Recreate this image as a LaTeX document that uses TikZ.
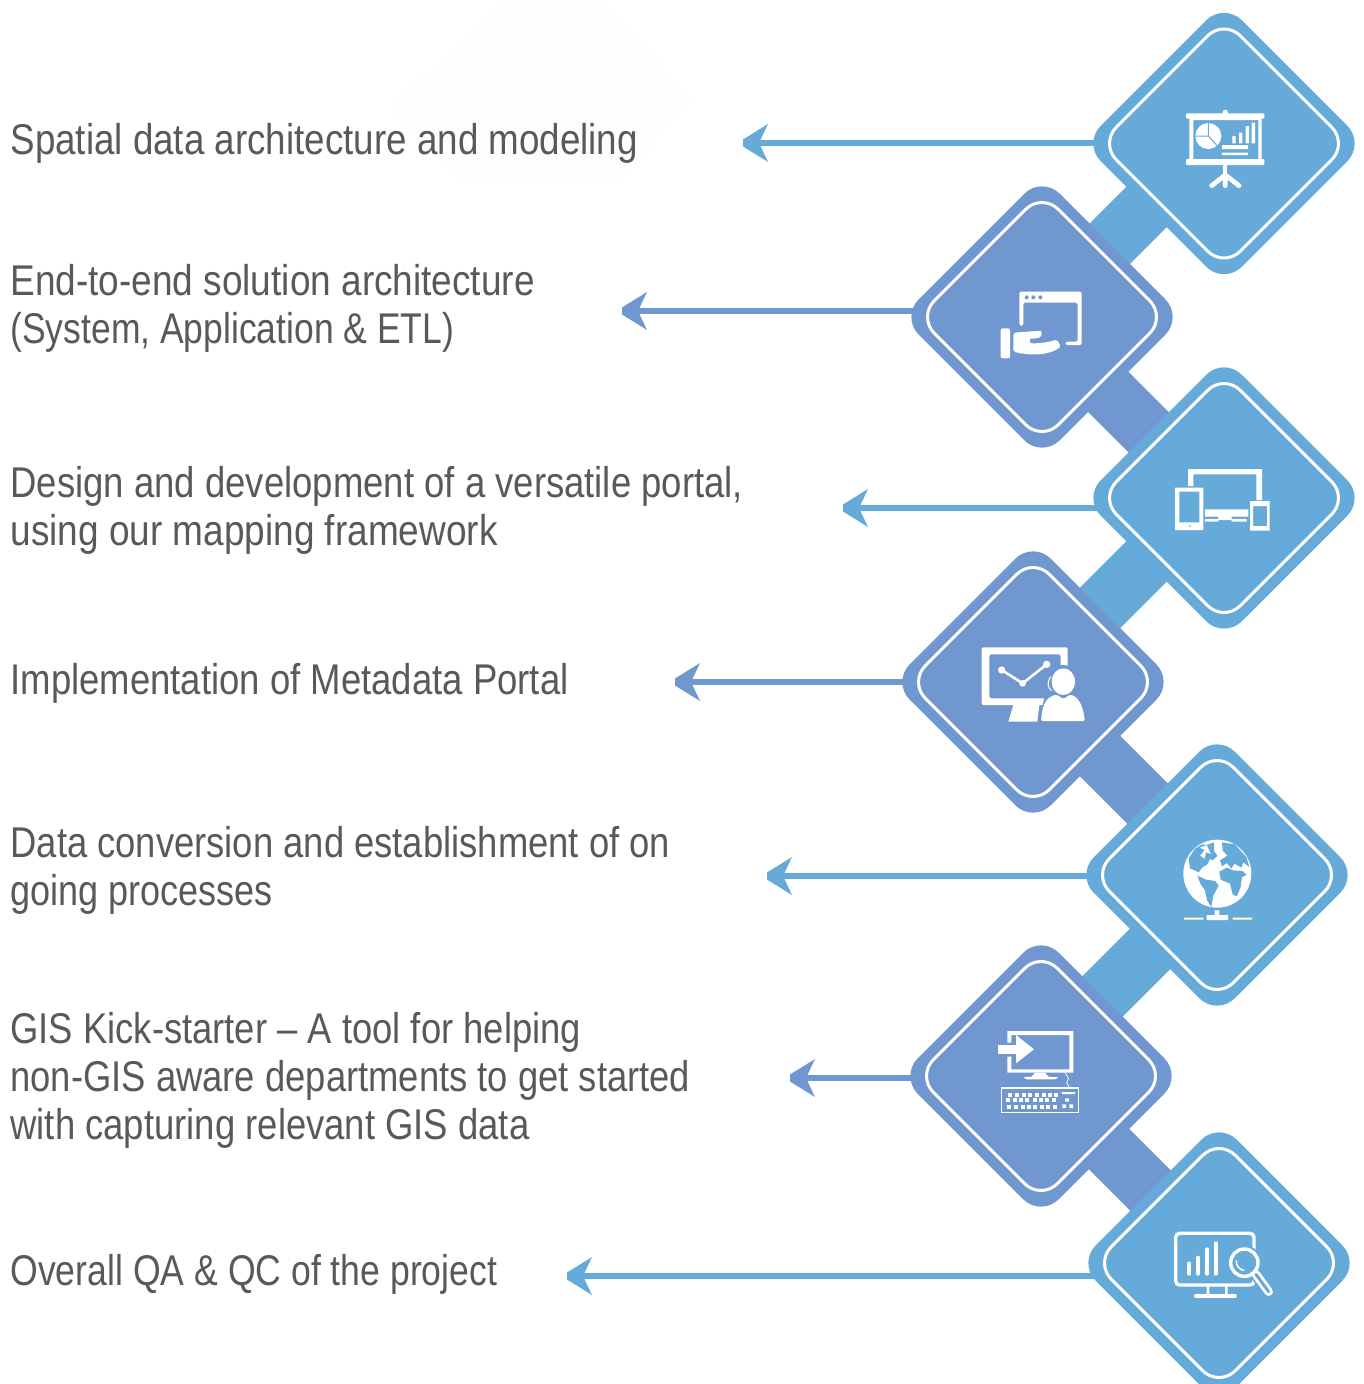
\documentclass[tikz,border=0pt]{standalone}
\usepackage{fontspec}
\usepackage{graphicx}
\setmainfont{Liberation Sans}[FakeStretch=0.855]
\usetikzlibrary{shapes.geometric,backgrounds}
\definecolor{bluea}{HTML}{66AAD9}
\definecolor{blueb}{HTML}{7097CF}
\definecolor{txt}{HTML}{58595B}
\definecolor{ghost}{HTML}{FCFDFE}
\newcommand{\fitx}[2]{\scalebox{#1}[1]{#2}}
\tikzset{
 tile/.style={shape=diamond,aspect=1,inner sep=0pt,outer sep=0pt,minimum size=282pt,rounded corners=25pt,fill=#1},
 tilein/.style={shape=diamond,aspect=1,inner sep=0pt,outer sep=0pt,minimum size=248pt,rounded corners=23pt,draw=white,line width=3pt},
 linkbar/.style={line width=57pt,draw=#1},
 armline/.style={line width=6pt,draw=#1},
 headpic/.pic={\fill[pic actions] (0,-3.5)--(25,-19)--(16,0)--(25,19)--(0,3.5)--cycle;},
 label/.style={anchor=base west,inner sep=0pt,outer sep=0pt,align=left,text=txt,font=\fontsize{43}{48}\selectfont},
 icon/.style={shift={#1},x=0.33333pt,y=-0.33333pt},
}
\begin{document}
\begin{tikzpicture}[x=1pt,y=-1pt]
\useasboundingbox (0,0) rectangle (1363,1384);
\clip (0,0) rectangle (1363,1384);
\fill[ghost] (507,0)--(600,0)--(693,100)--(620,178)--(457,178)--(390,107)--cycle;

% text
\node[label] (t1) at (10.5,154.5) {Spatial data architecture and modeling};
\node[label] (t2) at (10.5,343.5) {\fitx{1.006}{End-to-end solution architecture}\\\fitx{0.965}{(System, Application \& ETL)}};
\node[label] (t3) at (10.5,545.5) {\fitx{0.993}{Design and development of a versatile portal,}\\\fitx{1.006}{using our mapping framework}};
\node[label] (t4) at (10.5,694.5) {\fitx{0.993}{Implementation of Metadata Portal}};
\node[label] (t5) at (10.5,905.5) {\fitx{0.99}{Data conversion and establishment of on}\\\fitx{0.98}{going processes}};
\node[label] (t6) at (10.5,1139.5) {\fitx{0.99}{GIS Kick-starter – A tool for helping}\\\fitx{0.99}{non-GIS aware departments to get started}\\\fitx{0.992}{with capturing relevant GIS data}};
\node[label] (t7) at (10.5,1285.5) {\fitx{0.968}{Overall QA \& QC of the project}};

% tiles
\node[tile=bluea] (d1) at (1224,143.5) {};
\node[tile=blueb] (d2) at (1042,317) {};
\node[tile=bluea] (d3) at (1224,498) {};
\node[tile=blueb] (d4) at (1033,682) {};
\node[tile=bluea] (d5) at (1217,875) {};
\node[tile=blueb] (d6) at (1041,1076) {};
\node[tile=bluea] (d7) at (1219,1263) {};
\foreach \n in {d1,d2,d3,d4,d5,d6,d7} \node[tilein] at (\n.center) {};

% arrow ends
\coordinate (a1) at (743,143);
\coordinate (a2) at (622,311);
\coordinate (a3) at (843,508);
\coordinate (a4) at (675,682);
\coordinate (a5) at (767,876);
\coordinate (a6) at (790,1078);
\coordinate (a7) at (567,1276);

\begin{scope}[on background layer]
\draw[linkbar=bluea] ([shift={(-7,-7)}]d1.center) -- ([shift={(-5,-.5)}]d2.center);
\draw[linkbar=blueb] ([shift={(0,8.7)}]d2.center) -- ([shift={(-9,.7)}]d3.center);
\draw[linkbar=bluea] ([shift={(-7,-7)}]d3.center) -- ([shift={(-1,-6)}]d4.center);
\draw[linkbar=blueb] ([shift={(0,7)}]d4.center) -- ([shift={(1,-1)}]d5.center);
\draw[linkbar=bluea] ([shift={(3.5,3.5)}]d5.center) -- ([shift={(-.5,-17.5)}]d6.center);
\draw[linkbar=blueb] ([shift={(0,5)}]d6.center) -- ([shift={(0,-4)}]d7.center);
\draw[armline=bluea] (a1 -| d1.center) -- (a1);
\draw[armline=blueb] (a2 -| d2.center) -- (a2);
\draw[armline=bluea] (a3 -| d3.center) -- (a3);
\draw[armline=blueb] (a4 -| d4.center) -- (a4);
\draw[armline=bluea] (a5 -| d5.center) -- (a5);
\draw[armline=blueb] (a6 -| d6.center) -- (a6);
\draw[armline=bluea] (a7 -| d7.center) -- (a7);
\end{scope}
\pic[fill=bluea] at (a1) {headpic};
\pic[fill=blueb] at (a2) {headpic};
\pic[fill=bluea] at (a3) {headpic};
\pic[fill=blueb] at (a4) {headpic};
\pic[fill=bluea] at (a5) {headpic};
\pic[fill=blueb] at (a6) {headpic};
\pic[fill=bluea] at (a7) {headpic};

% icon 1: presentation board
\begin{scope}[icon={(1080,0)}]
\fill[white,rounded corners=1pt] (318,340) rectangle (553,356);
\fill[white,rounded corners=1pt] (318,477) rectangle (553,495);
\fill[white] (436,337) circle [radius=8];
\fill[white,even odd rule] (328,350) rectangle (545,480) (340,360) rectangle (535,477);
\fill[white] (385,408) circle [radius=39];
\draw[bluea,line width=1pt] (385,408) -- (385,365) (385,408) -- (345,408) (385,408) -- (414,440);
\fill[white] (430,495) rectangle (442,560);
\draw[white,line width=4.7pt,line cap=round] (436,525) -- (395,557) (436,525) -- (477,557) (436,525) -- (436,557);
\fill[white] (457,408) rectangle (467,430) (477,398) rectangle (487,430) (497,378) rectangle (507,430) (515,368) rectangle (525,430);
\fill[white] (426,435) rectangle (504,447) (426,458) rectangle (504,465);
\end{scope}

% icon 2: hand with window
\begin{scope}[icon={(900,180)}]
\fill[white,rounded corners=2pt] (358,437)--(358,335)--(545,335)--(545,495)--(497,495)--(497,485)--(533,485)--(533,368)--(370,368)--(370,437)--cycle;
\fill[blueb] (380,352) circle [radius=6] (400,352) circle [radius=6] (421,352) circle [radius=6];
\fill[white,rounded corners=2pt] (302,445) rectangle (330,535);
\fill[white,rounded corners=2pt] (340,458) -- (425,452) -- (425,470) .. controls (405,478) and (390,475) .. (390,482) .. controls (390,492) and (440,490) .. (470,478) -- (483,500) .. controls (440,530) and (380,525) .. (340,515) -- cycle;
\end{scope}

% icon 3: devices
\begin{scope}[icon={(1130,440)}]
\fill[white] (174,138)--(174,87)--(396,87)--(396,180)--(379,180)--(379,103)--(190,103)--(190,138)--cycle;
\fill[white,even odd rule] (135,143) rectangle (220,270) (148,155) rectangle (208,247);
\fill[bluea] (180,258) circle [radius=3];
\fill[white,even odd rule] (360,183) rectangle (419,272) (369,198) rectangle (411,258);
\fill[white] (225,208) rectangle (355,230) (265,230) rectangle (305,240) (225,237) rectangle (265,245) (305,237) rectangle (350,245);
\end{scope}

% icon 4: presenter
\begin{scope}[icon={(950,630)}]
\fill[white,even odd rule,rounded corners=2pt] (95,52) rectangle (353,225) (118,73) rectangle (332,205);
\draw[white,line width=2.6pt,line join=round] (155,120) -- (218,160) -- (290,103);
\fill[white] (155,120) circle [radius=11] (218,160) circle [radius=10] (290,103) circle [radius=11];
\fill[white] (190,225) -- (268,225) -- (262,275) -- (175,275) -- cycle;
\fill[blueb] (338,155) circle [radius=50];
\fill[blueb] (265,280) -- (285,195) -- (390,190) -- (415,280) -- cycle;
\fill[white] (340,155) ellipse [x radius=35,y radius=40];
\draw[white,line width=1pt] (302,140) .. controls (288,160) and (295,175) .. (305,182);
\fill[white,rounded corners=2pt] (273,273) .. controls (278,225) and (285,205) .. (320,193) -- (340,208) -- (360,193) .. controls (390,205) and (398,230) .. (405,273) -- cycle;
\end{scope}

% icon 5: globe
\begin{scope}[icon={(1178,835)}]
\fill[white] (118,116) circle [radius=102];
\fill[bluea] (32,70)--(50,42)--(72,28)--(86,30)--(64,38)--(80,45)--(66,62)--(80,72)--(84,52)--(100,58)--(86,30)--(108,22)--(108,48)--(118,62)--(104,76)--(96,72)--(88,88)--(72,98)--(62,112)--(36,100)--cycle;
\fill[bluea] (132,22)--(170,28)--(205,66)--(214,96)--(196,82)--(190,98)--(170,86)--(160,100)--(146,84)--(132,94)--(126,76)--(148,62)--(134,46)--cycle;
\fill[bluea] (124,110)--(146,98)--(166,106)--(194,108)--(206,120)--(192,126)--(188,156)--(176,184)--(164,178)--(156,146)--(128,134)--cycle;
\fill[bluea] (58,122)--(84,134)--(112,138)--(122,152)--(106,182)--(100,216)--(88,198)--(80,164)--(68,148)--cycle;
\fill[white] (110,226) rectangle (124,240) (86,240) rectangle (150,255);
\fill[white!85!yellow] (18,248) rectangle (76,254) (164,248) rectangle (222,254);
\end{scope}

% icon 6: computer with keyboard
\begin{scope}[icon={(980,1020)}]
\fill[white] (82,68)--(82,33)--(280,33)--(280,158)--(82,158)--(82,110)--(94,110)--(94,148)--(268,148)--(268,45)--(94,45)--(94,68)--cycle;
\fill[white] (55,75) rectangle (108,102);
\fill[white] (108,45) -- (162,88) -- (108,130) -- cycle;
\fill[white] (165,158) -- (195,158) -- (205,170) -- (235,172) -- (225,178) -- (140,178) -- (130,172) -- (155,170) -- cycle;
\draw[white,line width=.8pt] (255,158) .. controls (262,172) and (270,172) .. (262,182) .. controls (256,190) and (268,196) .. (270,204);
\draw[white,line width=1.2pt] (65,204) rectangle (296,277);
\foreach \x in {85,105,125,145,165,185,205,222} \fill[white] (\x,218) rectangle +(12,12);
\foreach \x in {78,98,118,135,158,178,195,215} \fill[white] (\x,235) rectangle +(12,11);
\foreach \x in {82,102,122,140,160,180,198,218} \fill[white] (\x,255) rectangle +(12,11);
\fill[white] (245,216) rectangle (285,222) (255,235) rectangle (267,245) (247,253) rectangle (258,264) (268,253) rectangle (279,264);
\end{scope}

% icon 7: monitor with magnifier
\begin{scope}[icon={(1150,1215)}]
\draw[white,line width=3.3pt,rounded corners=4pt] (77,55) rectangle (312,210);
\draw[white,line width=4pt,line cap=round] (118,145) -- (118,176) (145,128) -- (145,176) (171,103) -- (171,176) (197,85) -- (197,176);
\fill[white] (170,210) rectangle (178,240) (225,210) rectangle (233,240);
\draw[white,line width=4pt,line cap=round] (138,243) -- (255,243);
\fill[bluea] (283,143) circle [radius=52];
\draw[bluea,line width=11pt,line cap=round] (315,178) -- (356,230);
\draw[white,line width=8.5pt,line cap=round] (318,178) -- (356,230);
\draw[bluea,line width=3pt,line cap=round] (318,178) -- (356,230);
\fill[bluea] (283,143) circle [radius=42];
\draw[white,line width=3.4pt] (283,143) circle [radius=41];
\draw[white,line width=1.6pt,line cap=round] (259,138) .. controls (258,152) and (268,163) .. (281,166);
\end{scope}
\end{tikzpicture}
\end{document}
